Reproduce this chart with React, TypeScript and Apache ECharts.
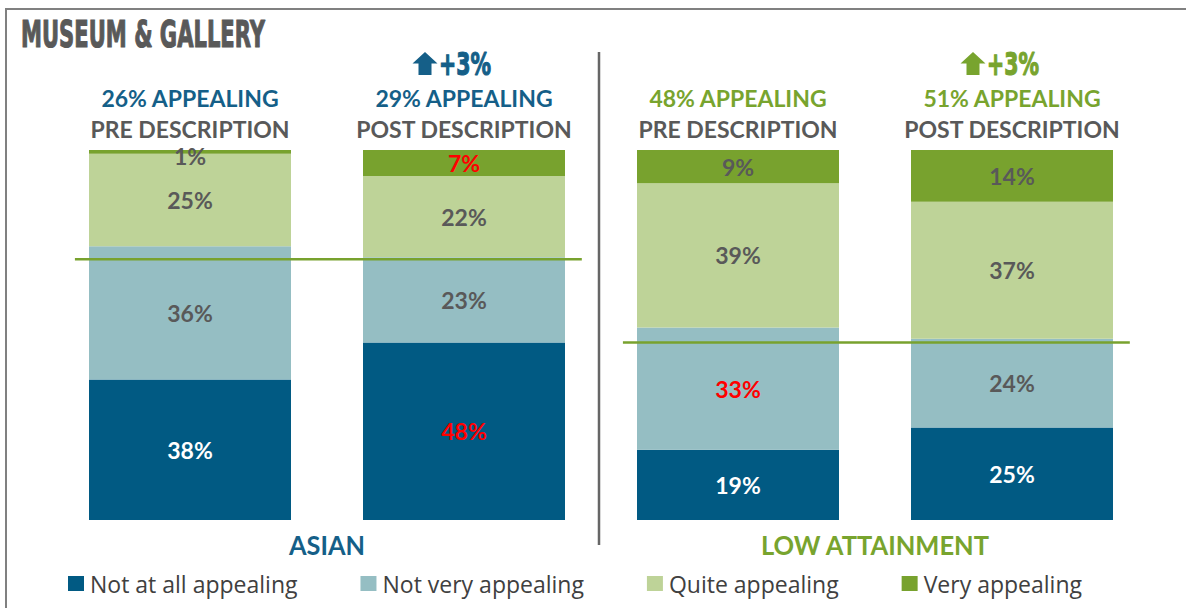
import React, { useEffect, useRef } from 'react';
import * as echarts from 'echarts';

// ---------- data ----------
const categories = ['Asian · Pre', 'Asian · Post', 'Low attainment · Pre', 'Low attainment · Post'];
const groupNames = ['ASIAN', 'LOW ATTAINMENT'];
const stageLabels = ['PRE DESCRIPTION', 'POST DESCRIPTION', 'PRE DESCRIPTION', 'POST DESCRIPTION'];
const seriesNames = ['Not at all appealing', 'Not very appealing', 'Quite appealing', 'Very appealing'];
const notAtAll = [38, 48, 19, 25];
const notVery = [36, 23, 33, 24];
const quite = [25, 22, 39, 37];
const very = [1, 7, 9, 14];
// highlighted (red) labels
const notAtAllRed = [false, true, false, false];
const notVeryRed = [false, false, true, false];
const quiteRed = [false, false, false, false];
const veryRed = [false, true, false, false];
// level (share from the top, %) of the green reference line in each group
const referenceLevels = [29.5, 52];

// ---------- styles ----------
const DARK = '#015a83';
const LBLUE = '#95bec3';
const LGREEN = '#bed398';
const GREEN = '#78a22e';
const GRAY = '#595959';
const RED = '#ff0000';
const BLUE_TXT = '#155f88';
const GREEN_TXT = '#78a42e';
const groupColors = [BLUE_TXT, GREEN_TXT];

const GRID = { left: 53, top: 150, width: 1096, height: 370 };
const BAR_W = 202;
const LINE_EXT_L = 0.42;
const LINE_EXT_R = 0.43;

function measure(text: string, font: string): number {
  const ctx = document.createElement('canvas').getContext('2d');
  if (!ctx) return text.length * 10;
  ctx.font = font;
  return ctx.measureText(text).width;
}

function fitText(text: string, x: number, y: number, size: number, targetW: number, color: string, family: string, align: string, stroke = 0) {
  const w = measure(text, `bold ${size}px ${family}`);
  const sx = targetW / w;
  return {
    type: 'text',
    x,
    y,
    scaleX: sx,
    silent: true,
    style: {
      text,
      x: 0,
      y: 0,
      fill: color,
      font: `bold ${size}px ${family}`,
      align,
      verticalAlign: 'middle',
      stroke: stroke ? color : undefined,
      lineWidth: stroke,
    },
  };
}

export default function App() {
  const ref = useRef<HTMLDivElement>(null);
  useEffect(() => {
    const el = ref.current!;
    const chart = echarts.init(el, null, { renderer: 'svg' });

    const seriesData = [notAtAll, notVery, quite, very];
    const seriesRed = [notAtAllRed, notVeryRed, quiteRed, veryRed];
    const colors = [DARK, LBLUE, LGREEN, GREEN];
    const appeal = categories.map((_, i) => quite[i] + very[i]);

    const barSeries = seriesNames.map((name, s) => ({
      name,
      type: 'bar',
      stack: 'total',
      barWidth: BAR_W,
      xAxisIndex: 0,
      yAxisIndex: 0,
      itemStyle: { color: colors[s] },
      label: {
        show: true,
        position: 'inside',
        fontFamily: 'Lato',
        fontWeight: 'bold',
        fontSize: 23,
        lineHeight: 18,
        formatter: '{c}%',
      },
      data: seriesData[s].map((v, i) => ({
        value: v,
        label: {
          color: seriesRed[s][i] ? RED : s === 0 ? '#ffffff' : GRAY,
          offset: v < 3 ? [0, 4] : [0, 0],
        },
      })),
    }));

    const lineSeries = groupNames.map((g, k) => ({
      name: g + ' line',
      type: 'line',
      xAxisIndex: 1,
      yAxisIndex: 0,
      symbol: 'none',
      silent: true,
      z: 5,
      lineStyle: { color: GREEN, width: 2.5 },
      data: [
        [2 * k - LINE_EXT_L, 100 - referenceLevels[k]],
        [2 * k + 1 + LINE_EXT_R, 100 - referenceLevels[k]],
      ],
    }));

    const option: any = {
      animation: false,
      backgroundColor: '#ffffff',
      grid: { ...GRID, containLabel: false },
      xAxis: [
        { type: 'category', data: categories, show: false },
        { type: 'value', min: -0.5, max: 3.5, show: false },
      ],
      yAxis: [{ type: 'value', min: 0, max: 100, show: false }],
      legend: {
        data: seriesNames,
        left: 68,
        top: 572,
        padding: 0,
        itemWidth: 16,
        itemHeight: 15,
        itemGap: 63,
        icon: 'rect',
        selectedMode: false,
        textStyle: { fontFamily: '"Open Sans"', fontSize: 23, color: '#404040', padding: [0, 0, 0, 1] },
      },
      series: [...barSeries, ...lineSeries],
    };
    chart.setOption(option);

    const cx = categories.map((_, i) => chart.convertToPixel({ xAxisIndex: 0 }, i) as number);
    const topY = chart.convertToPixel({ yAxisIndex: 0 }, 100) as number;
    const botY = chart.convertToPixel({ yAxisIndex: 0 }, 0) as number;
    const divX = (cx[1] + cx[2]) / 2 - 2;

    const graphics: any[] = [];
    // frame
    graphics.push({
      type: 'polyline',
      silent: true,
      shape: { points: [[6, 608], [6, 9], [1186, 9]] },
      style: { stroke: '#808080', lineWidth: 2, fill: 'none' },
    });
    // title
    graphics.push(fitText('MUSEUM & GALLERY', 21, 34, 37, 244, GRAY, '"DejaVu Sans"', 'left', 1.2));
    // divider
    graphics.push({
      type: 'line',
      silent: true,
      shape: { x1: divX, y1: 52, x2: divX, y2: botY + 25 },
      style: { stroke: '#666666', lineWidth: 2.5 },
    });

    categories.forEach((_, i) => {
      const g = Math.floor(i / 2);
      const col = groupColors[g];
      graphics.push({
        type: 'text',
        x: cx[i],
        y: topY - 52,
        silent: true,
        style: {
          text: `${appeal[i]}% APPEALING`,
          fill: col,
          font: 'bold 23px Lato',
          lineHeight: 22,
          align: 'center',
          verticalAlign: 'middle',
        },
      });
      graphics.push({
        type: 'text',
        x: cx[i],
        y: topY - 21,
        silent: true,
        style: {
          text: stageLabels[i],
          fill: GRAY,
          font: 'bold 23px Lato',
          lineHeight: 20,
          align: 'center',
          verticalAlign: 'middle',
        },
      });
      if (i % 2 === 1) {
        const delta = appeal[i] - appeal[i - 1];
        const ax = cx[i] - 39;
        graphics.push({
          type: 'polygon',
          x: ax,
          y: topY - 98,
          silent: true,
          shape: { points: [[0, 0], [12.5, 11.5], [6.5, 11.5], [6.5, 23], [-6.5, 23], [-6.5, 11.5], [-12.5, 11.5]] },
          style: { fill: col },
        });
        graphics.push(fitText(`${delta >= 0 ? '+' : ''}${delta}%`, cx[i] - 25, topY - 86, 32, 52, col, '"DejaVu Sans"', 'left', 1.2));
      }
    });

    groupNames.forEach((name, k) => {
      const center = (cx[2 * k] + cx[2 * k + 1]) / 2;
      const w = k === 0 ? 76 : 229;
      graphics.push(fitText(name, center, botY + 25, 27, w, groupColors[k], 'Lato', 'center'));
    });

    chart.setOption({ graphic: graphics });

    return () => chart.dispose();
  }, []);
  return (
    <div
      ref={ref}
      style={{ position: 'fixed', left: 0, top: 0, width: 1186, height: 608, background: '#fff' }}
    />
  );
}
